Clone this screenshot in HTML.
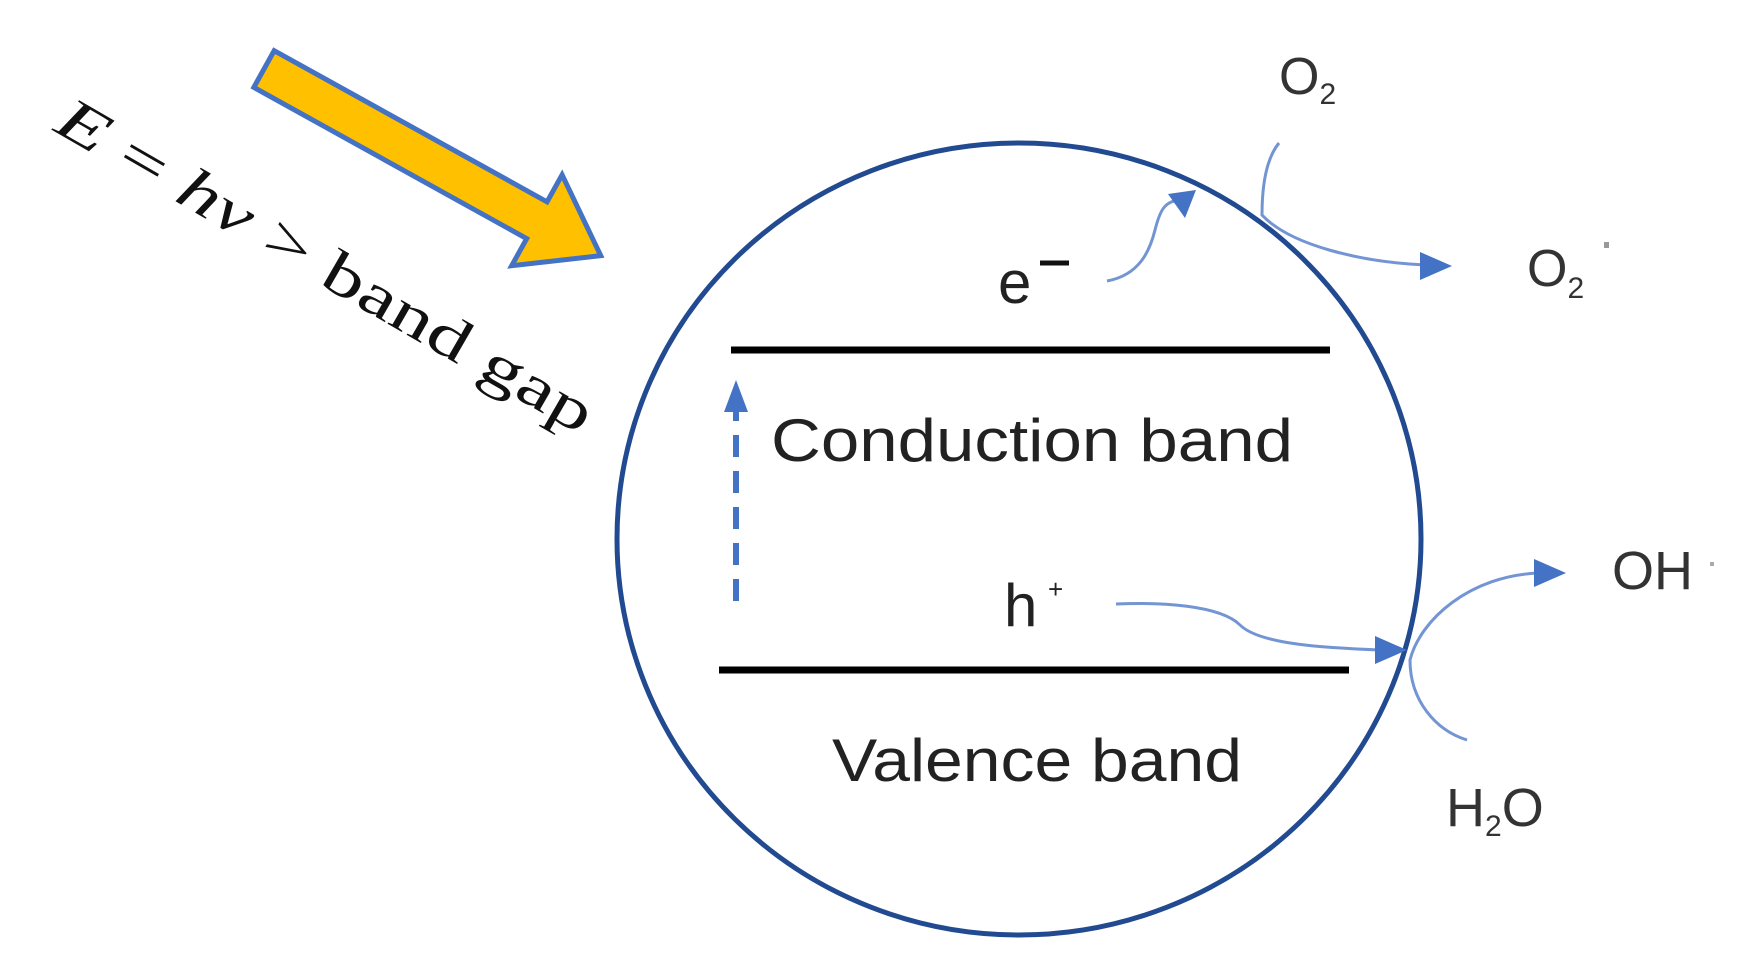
<!DOCTYPE html>
<html><head><meta charset="utf-8"><style>
html,body{margin:0;padding:0;background:#fff;}
svg{display:block;}
</style></head><body>
<svg width="1753" height="979" viewBox="0 0 1753 979" xmlns="http://www.w3.org/2000/svg">
<defs>
<marker id="ah" markerWidth="8" markerHeight="8" refX="6" refY="4" orient="auto" markerUnits="userSpaceOnUse" viewBox="0 0 8 8">
</marker>
</defs>
<!-- yellow arrow -->
<g transform="translate(264,69) rotate(29)">
<polygon points="0,-21 312,-21 312,-52 385,0 312,52 312,21 0,21" fill="#ffc000" stroke="#4472c4" stroke-width="5" stroke-linejoin="miter"/>
</g>
<!-- rotated text -->
<text transform="translate(52,130) rotate(30)" font-family="Liberation Serif, serif" font-size="60" fill="#111" textLength="610" lengthAdjust="spacingAndGlyphs"><tspan font-style="italic">E</tspan> = <tspan font-style="italic">hv</tspan> &gt; band gap</text>
<!-- circle -->
<ellipse cx="1019" cy="539" rx="402" ry="396" fill="none" stroke="#214a91" stroke-width="5"/>
<!-- band lines -->
<line x1="731" y1="350" x2="1330" y2="350" stroke="#000" stroke-width="7"/>
<line x1="719" y1="670" x2="1349" y2="670" stroke="#000" stroke-width="7"/>
<!-- dashed arrow -->
<line x1="736" y1="601" x2="736" y2="410" stroke="#4472c4" stroke-width="6" stroke-dasharray="22,14"/>
<polygon points="736,380 724,412 748,412" fill="#4472c4"/>
<!-- labels -->
<text x="771" y="461" font-family="Liberation Sans, sans-serif" font-size="60" fill="#222" textLength="522" lengthAdjust="spacingAndGlyphs">Conduction band</text>
<text x="832" y="781" font-family="Liberation Sans, sans-serif" font-size="60" fill="#222" textLength="410" lengthAdjust="spacingAndGlyphs">Valence band</text>
<text x="998" y="303" font-family="Liberation Sans, sans-serif" font-size="60" fill="#222">e</text>
<line x1="1040" y1="263" x2="1069" y2="263" stroke="#111" stroke-width="5"/>
<text x="1004" y="626" font-family="Liberation Sans, sans-serif" font-size="60" fill="#222">h</text>
<text x="1048" y="598" font-family="Liberation Sans, sans-serif" font-size="26" fill="#222">+</text>
<!-- blue curves -->
<g fill="none" stroke="#4472c4" stroke-width="3" opacity="0.75">
<path d="M1107,281 C1140,275 1150,250 1155,230 C1160,210 1165,200 1182,200"/>
<path d="M1279,143 C1265,160 1262,190 1262,215 C1290,245 1360,262 1425,265"/>
<path d="M1116,604 C1160,602 1220,605 1240,625 C1260,645 1330,648 1380,650"/>
<path d="M1467,740 C1435,730 1410,700 1410,660 C1420,620 1470,575 1540,573"/>
</g>
<g fill="#4472c4">
<polygon points="1196,190 1168,194 1185,218"/>
<polygon points="1452,266 1420,252 1420,280"/>
<polygon points="1407,650 1375,636 1375,664"/>
<polygon points="1566,573 1534,559 1534,587"/>
</g>
<!-- species labels -->
<text x="1279" y="94" font-family="Liberation Sans, sans-serif" font-size="52" fill="#333">O<tspan font-size="30" dy="10">2</tspan></text>
<text x="1527" y="286" font-family="Liberation Sans, sans-serif" font-size="52" fill="#333">O<tspan font-size="30" dy="12">2</tspan></text>
<rect x="1604" y="242" width="5" height="6" fill="#999"/>
<text x="1612" y="589" font-family="Liberation Sans, sans-serif" font-size="54" fill="#333">OH</text>
<rect x="1710" y="562" width="4" height="4" fill="#aaa"/>
<text x="1446" y="826" font-family="Liberation Sans, sans-serif" font-size="54" fill="#333">H<tspan font-size="30" dy="10">2</tspan><tspan dy="-10">O</tspan></text>
</svg>
</body></html>
